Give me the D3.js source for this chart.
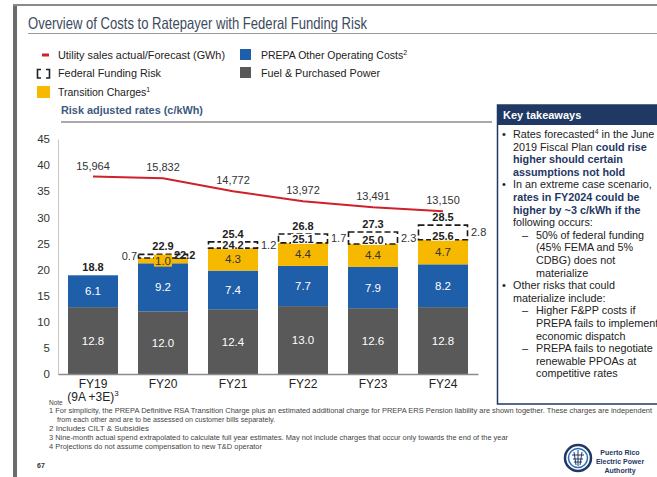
<!DOCTYPE html>
<html>
<head>
<meta charset="utf-8">
<script src="https://cdnjs.cloudflare.com/ajax/libs/d3/7.8.5/d3.min.js"></script>
<style>
  body { margin: 0; background: #fff; }
  svg { display: block; font-family: "Liberation Sans", Arial, sans-serif; }
</style>
</head>
<body>
<div id="viz"></div>
<script>
// chart data
const years = ["FY19", "FY20", "FY21", "FY22", "FY23", "FY24"];
const fuel = [12.8, 12.0, 12.4, 13.0, 12.6, 12.8];
const otherCosts = [6.1, 9.2, 7.4, 7.7, 7.9, 8.2];
const transition = [0, 1.0, 4.3, 4.4, 4.4, 4.7];
const fedRisk = [0, 0.7, 1.2, 1.7, 2.3, 2.8];
const baseTotals = ["18.8", "22.2", "24.2", "25.1", "25.0", "25.6"];
const riskTotals = ["18.8", "22.9", "25.4", "26.8", "27.3", "28.5"];
const sales = [15964, 15832, 14772, 13972, 13491, 13150];
const yTicks = [0, 5, 10, 15, 20, 25, 30, 35, 40, 45];

const navy = "#1f3864";
const colors = { fuel: "#595959", other: "#1f5ea8", transition: "#f6b900" };

const width = 657, height = 477;

const svg = d3.select("#viz").append("svg")
    .attr("width", width)
    .attr("height", height);

// slide frame
svg.append("rect").attr("x", 13).attr("y", 4).attr("width", 4).attr("height", height).attr("fill", "#6b6b6b");
svg.append("rect").attr("x", 13).attr("y", 4).attr("width", width).attr("height", 2).attr("fill", "#8a8a8a");

svg.append("text")
    .attr("x", 28).attr("y", 29)
    .attr("font-size", 16.5)
    .attr("fill", "#3c4a5c")
    .attr("textLength", 339).attr("lengthAdjust", "spacingAndGlyphs")
    .text("Overview of Costs to Ratepayer with Federal Funding Risk");
svg.append("line").attr("x1", 28).attr("x2", width).attr("y1", 33.5).attr("y2", 33.5)
    .attr("stroke", "#9a9a9a").attr("stroke-width", 1);

// legend
const legend = svg.append("g").attr("font-size", 11).attr("fill", "#222");
legend.append("line").attr("x1", 42).attr("x2", 49).attr("y1", 55).attr("y2", 55)
    .attr("stroke", "#d0202a").attr("stroke-width", 3);
legend.append("rect").attr("x", 240).attr("y", 49).attr("width", 11).attr("height", 11).attr("fill", colors.other);
legend.append("rect").attr("x", 240).attr("y", 67).attr("width", 11).attr("height", 11).attr("fill", colors.fuel);
legend.append("rect").attr("x", 37).attr("y", 86).attr("width", 13).attr("height", 12).attr("fill", colors.transition);
legend.append("path")
    .attr("d", "M41,69.5H37.5V78H41 M46,69.5H49.5V78H46")
    .attr("fill", "none").attr("stroke", "#222").attr("stroke-width", 1.6);

legend.append("text").attr("x", 58).attr("y", 59)
    .attr("textLength", 167).attr("lengthAdjust", "spacingAndGlyphs")
    .text("Utility sales actual/Forecast (GWh)");
const t2 = legend.append("text").attr("x", 261).attr("y", 59).attr("font-size", 10.5);
t2.append("tspan").text("PREPA Other Operating Costs");
t2.append("tspan").attr("font-size", 7).attr("dy", -4).text("2");
legend.append("text").attr("x", 58).attr("y", 77)
    .attr("textLength", 103).attr("lengthAdjust", "spacingAndGlyphs")
    .text("Federal Funding Risk");
legend.append("text").attr("x", 261).attr("y", 77)
    .attr("textLength", 119).attr("lengthAdjust", "spacingAndGlyphs")
    .text("Fuel & Purchased Power");
const t3 = legend.append("text").attr("x", 58).attr("y", 96).attr("font-size", 10.5);
t3.append("tspan").text("Transition Charges");
t3.append("tspan").attr("font-size", 7).attr("dy", -4).text("1");

svg.append("text")
    .attr("x", 61).attr("y", 114)
    .attr("font-size", 11).attr("font-weight", "bold")
    .attr("fill", "#3d5a80")
    .attr("textLength", 142).attr("lengthAdjust", "spacingAndGlyphs")
    .text("Risk adjusted rates (c/kWh)");
svg.append("line").attr("x1", 61).attr("x2", 492).attr("y1", 122).attr("y2", 122)
    .attr("stroke", "#555").attr("stroke-width", 1);

// scales
const x = d3.scaleBand()
    .domain(years)
    .range([58, 478])
    .paddingInner(0.2857)
    .paddingOuter(0.1429);

const y = d3.scaleLinear().domain([0, 45]).range([374, 139]);
const ySales = d3.scaleLinear().domain([0, 19000]).range([374, 139]);

// y axis
const yAxis = svg.append("g")
    .attr("transform", "translate(58,0)")
    .call(d3.axisLeft(y).tickValues(yTicks).tickSize(0).tickPadding(8));
yAxis.select(".domain").attr("stroke", "#c8c8c8");
yAxis.selectAll("text").attr("font-size", 11.5).attr("fill", "#333").attr("font-family", "Liberation Sans, Arial, sans-serif");

// stacked data
const rows = years.map((yr, i) => ({
    yr, i,
    fuel: fuel[i],
    other: otherCosts[i],
    trans: transition[i],
    risk: fedRisk[i],
    base: fuel[i] + otherCosts[i] + transition[i]
}));

const bw = x.bandwidth();
const gBar = svg.selectAll(".bar")
    .data(rows)
    .join("g")
        .attr("class", "bar")
        .attr("transform", d => `translate(${x(d.yr)},0)`);

gBar.append("rect")
    .attr("y", d => y(d.fuel)).attr("width", bw)
    .attr("height", d => y(0) - y(d.fuel))
    .attr("fill", colors.fuel);
gBar.append("rect")
    .attr("y", d => y(d.fuel + d.other)).attr("width", bw)
    .attr("height", d => y(d.fuel) - y(d.fuel + d.other))
    .attr("fill", colors.other);
gBar.append("rect")
    .attr("y", d => y(d.base)).attr("width", bw)
    .attr("height", d => y(d.fuel + d.other) - y(d.base))
    .attr("fill", colors.transition);

// dashed federal risk boxes
gBar.filter(d => d.risk > 0).append("rect")
    .attr("x", 0.5)
    .attr("y", d => y(d.base + d.risk))
    .attr("width", bw - 1)
    .attr("height", d => y(d.base) - y(d.base + d.risk))
    .attr("fill", "none")
    .attr("stroke", "#1a1a1a")
    .attr("stroke-width", 1.6)
    .attr("stroke-dasharray", "6,3");

// segment labels
gBar.append("text")
    .attr("x", bw / 2).attr("y", d => y(d.fuel / 2) + 4)
    .attr("text-anchor", "middle").attr("font-size", 11.5).attr("fill", "#fff")
    .text(d => d.fuel.toFixed(1));
gBar.append("text")
    .attr("x", bw / 2).attr("y", d => y(d.fuel + d.other / 2) + 4)
    .attr("text-anchor", "middle").attr("font-size", 11.5).attr("fill", "#fff")
    .text(d => d.other.toFixed(1));

const transLab = gBar.filter(d => d.trans > 0);
transLab.filter(d => d.trans < 2).append("rect")
    .attr("x", bw / 2 - 9).attr("y", d => y(d.fuel + d.other + d.trans / 2) - 6)
    .attr("width", 18).attr("height", 12)
    .attr("fill", colors.transition);
transLab.append("text")
    .attr("x", bw / 2).attr("y", d => y(d.fuel + d.other + d.trans / 2) + 4)
    .attr("text-anchor", "middle").attr("font-size", 11.5).attr("fill", "#333")
    .text(d => d.trans.toFixed(1));

// base total labels inside the dashed box (white backing)
const wide = gBar.filter(d => d.risk > 1);
wide.append("rect")
    .attr("x", bw / 2 - 12).attr("y", d => y(d.base) - 9)
    .attr("width", 24).attr("height", 10)
    .attr("fill", "#fff");
wide.append("text")
    .attr("x", bw / 2).attr("y", d => y(d.base) + 0.5)
    .attr("text-anchor", "middle").attr("font-size", 11).attr("font-weight", "bold").attr("fill", "#222")
    .text(d => baseTotals[d.i]);

// small risk: base total on the right side, risk value on the left
const narrow = gBar.filter(d => d.risk > 0 && d.risk <= 1);
narrow.append("text")
    .attr("x", bw - 14).attr("y", d => y(d.base) + 1)
    .attr("font-size", 11).attr("font-weight", "bold").attr("fill", "#222")
    .text(d => baseTotals[d.i]);
narrow.append("text")
    .attr("x", -1).attr("y", d => y(d.base + d.risk / 2) + 4)
    .attr("text-anchor", "end").attr("font-size", 11).attr("fill", "#333")
    .text(d => d.risk.toFixed(1));
wide.append("text")
    .attr("x", bw + 3).attr("y", d => y(d.base + d.risk / 2) + 4)
    .attr("font-size", 11).attr("fill", "#333")
    .text(d => d.risk.toFixed(1));

// totals above
gBar.append("text")
    .attr("x", bw / 2).attr("y", d => y(d.base + d.risk) - 4)
    .attr("text-anchor", "middle").attr("font-size", 11).attr("font-weight", "bold").attr("fill", "#222")
    .text(d => riskTotals[d.i]);

// x axis
const xAxis = svg.append("g")
    .attr("transform", "translate(0,374)")
    .call(d3.axisBottom(x).tickSize(0).tickPadding(5));
xAxis.select(".domain").attr("stroke", "#8c8c8c").attr("stroke-width", 1.5);
xAxis.selectAll("text").attr("font-size", 12).attr("fill", "#222").attr("font-family", "Liberation Sans, Arial, sans-serif");

const sub = svg.append("text")
    .attr("x", x("FY19") + bw / 2).attr("y", 401)
    .attr("text-anchor", "middle").attr("font-size", 12).attr("fill", "#222");
sub.append("tspan").text("(9A +3E)");
sub.append("tspan").attr("font-size", 8).attr("dy", -5).text("3");

// utility sales line
const line = d3.line()
    .x((d, i) => x(years[i]) + bw / 2)
    .y(d => ySales(d));
svg.append("path")
    .datum(sales)
    .attr("d", line)
    .attr("fill", "none")
    .attr("stroke", "#d0202a")
    .attr("stroke-width", 2);
svg.selectAll(".sales-lab")
    .data(sales)
    .join("text")
        .attr("class", "sales-lab")
        .attr("x", (d, i) => x(years[i]) + bw / 2)
        .attr("y", d => ySales(d) - 7)
        .attr("text-anchor", "middle").attr("font-size", 11).attr("fill", "#333")
        .text(d => d3.format(",")(d));

// key takeaways box
const box = svg.append("g");
box.append("rect").attr("x", 497.5).attr("y", 105).attr("width", 170).attr("height", 299)
    .attr("fill", "#fff").attr("stroke", navy).attr("stroke-width", 1.5);
box.append("rect").attr("x", 497).attr("y", 105).attr("width", 170).attr("height", 20).attr("fill", navy);
box.append("text").attr("x", 503).attr("y", 119)
    .attr("font-size", 11).attr("font-weight", "bold").attr("fill", "#fff")
    .text("Key takeaways");

const takeaways = [
    { m: "•", segs: [["Rates forecasted", 0], ["4", 2], [" in the June", 3]] },
    { segs: [["2019 Fiscal Plan ", 0], ["could rise", 1]] },
    { segs: [["higher should certain", 1]] },
    { segs: [["assumptions not hold", 1]] },
    { m: "•", segs: [["In an extreme case scenario,", 0]] },
    { segs: [["rates in FY2024 could be", 1]] },
    { segs: [["higher by ~3 c/kWh if the", 1]] },
    { segs: [["following occurs:", 0]] },
    { m: "–", segs: [["50% of federal funding", 0]] },
    { sub: 1, segs: [["(45% FEMA and 5%", 0]] },
    { sub: 1, segs: [["CDBG) does not", 0]] },
    { sub: 1, segs: [["materialize", 0]] },
    { m: "•", segs: [["Other risks that could", 0]] },
    { segs: [["materialize include:", 0]] },
    { m: "–", segs: [["Higher F&PP costs if", 0]] },
    { sub: 1, segs: [["PREPA fails to implement", 0]] },
    { sub: 1, segs: [["economic dispatch", 0]] },
    { m: "–", segs: [["PREPA fails to negotiate", 0]] },
    { sub: 1, segs: [["renewable PPOAs at", 0]] },
    { sub: 1, segs: [["competitive rates", 0]] }
];
takeaways.forEach((ln, i) => {
    const yy = 138 + i * 12.6;
    const isSub = ln.sub || ln.m === "–";
    if (ln.m) {
        box.append("text")
            .attr("x", ln.m === "•" ? 502 : 522).attr("y", yy)
            .attr("font-size", 11).attr("fill", "#222")
            .text(ln.m);
    }
    const t = box.append("text")
        .attr("x", isSub ? 536 : 513).attr("y", yy)
        .attr("font-size", 10.8).attr("fill", "#222");
    ln.segs.forEach(s => {
        const sp = t.append("tspan").text(s[0]);
        if (s[1] === 1) sp.attr("font-weight", "bold").attr("fill", navy);
        if (s[1] === 2) sp.attr("font-size", 7).attr("dy", -4);
        if (s[1] === 3) sp.attr("dy", 4);
    });
});

// notes
const notes = svg.append("g").attr("font-size", 7).attr("fill", "#444");
notes.append("text").attr("x", 49).attr("y", 405).attr("font-size", 6.5).text("Note");
const noteLines = [
    { x: 49, y: 413, w: 603, t: "1 For simplicity, the PREPA Definitive RSA Transition Charge plus an estimated additional charge for PREPA ERS Pension liability are shown together. These charges are independent" },
    { x: 57, y: 422, w: 218, t: "from each other and are to be assessed on customer bills separately." },
    { x: 49, y: 431, w: 100, t: "2 Includes CILT & Subsidies" },
    { x: 49, y: 440, w: 459, t: "3 Nine-month actual spend extrapolated to calculate full year estimates. May not include charges that occur only towards the end of the year" },
    { x: 49, y: 449, w: 213, t: "4 Projections do not assume compensation to new T&D operator" }
];
noteLines.forEach(n => {
    notes.append("text").attr("x", n.x).attr("y", n.y)
        .attr("textLength", n.w).attr("lengthAdjust", "spacingAndGlyphs")
        .text(n.t);
});
svg.append("text").attr("x", 37).attr("y", 468).attr("font-size", 7).attr("font-weight", "bold").attr("fill", "#333").text("67");

// logo
const logo = svg.append("g").attr("transform", "translate(578,458)");
logo.append("circle").attr("r", 13).attr("fill", "#fff").attr("stroke", navy).attr("stroke-width", 2.5);
logo.append("circle").attr("r", 9.5).attr("fill", "none").attr("stroke", "#2a6fb5").attr("stroke-width", 1.5);
logo.append("path").attr("d", "M0,-8V8 M-4,-6L-2,7 M4,-6L2,7 M-6,-3H6 M-5,1H5 M-4,4H4")
    .attr("stroke", navy).attr("stroke-width", 1).attr("fill", "none");
const lt = svg.append("g").attr("font-size", 7).attr("font-weight", "bold").attr("fill", navy).attr("text-anchor", "middle");
["Puerto Rico", "Electric Power", "Authority"].forEach((s, i) => {
    lt.append("text").attr("x", 620).attr("y", 455 + i * 9).text(s);
});
</script>
</body>
</html>
